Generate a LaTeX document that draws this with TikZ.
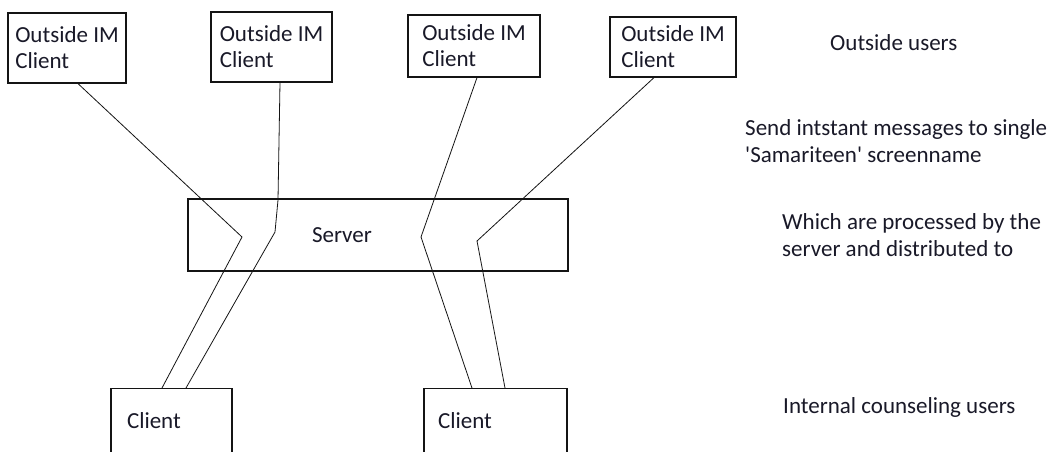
\documentclass[tikz,border=0pt]{standalone}
\usepackage{fontspec}
\setmainfont{Carlito}
\usepackage{tikz}
\usetikzlibrary{positioning}
\definecolor{InkBlack}{RGB}{20,20,20}
\definecolor{TextDark}{RGB}{25,25,40}
\tikzset{
  imbox/.style={
    draw=InkBlack,
    line width=1.2pt,
    align=left,
    text=TextDark,
    font=\fontsize{23}{26}\selectfont
  },
  serverbox/.style={
    draw=InkBlack,
    line width=1.2pt,
    minimum height=72pt,
    text width=132pt,
    inner xsep=124pt,
    align=left,
    text=TextDark,
    font=\fontsize{23}{26}\selectfont
  },
  clientbox/.style={
    draw=InkBlack,
    line width=1.2pt,
    anchor=north,
    align=left,
    inner ysep=24pt,
    text height=16pt,
    text depth=5pt,
    text=TextDark,
    font=\fontsize{23}{26}\selectfont
  },
  note/.style={
    anchor=base west,
    inner sep=0pt,
    align=left,
    text=TextDark,
    font=\fontsize{23}{27}\selectfont
  },
  link/.style={line width=0.8pt,draw=InkBlack}
}
\begin{document}
\begin{tikzpicture}[x=1pt,y=-1pt]
    \path[use as bounding box,fill=white] (0,0) rectangle (1050,451);
    \clip (0,0) rectangle (1050,451);
    \node[imbox,minimum width=118pt,minimum height=70pt] (out1) at (67,48) {Outside IM\\Client};
    \node[imbox,minimum width=121pt,minimum height=70pt] (out2) at (271.5,47) {Outside IM\\Client};
    \node[imbox,minimum width=132pt,minimum height=62pt] (out3) at (474,46) {Outside IM\\Client};
    \node[imbox,minimum width=126pt,minimum height=60pt] (out4) at (673,47) {Outside IM\\Client};
    \node[serverbox] (server) at (378,235) {Server};
    \node[clientbox,text width=89pt,inner xsep=16pt] (client1) at (171.5,388) {Client};
    \node[clientbox,text width=115pt,inner xsep=14pt] (client2) at (495.5,388) {Client};
    \node[note] (outside) at (830,50) {Outside users};
    \node[note] (send) at (745,162) {Send intstant messages to single\\\textquotesingle Samariteen\textquotesingle\ screenname};
    \node[note] (which) at (782,256) {Which are processed by the\\server and distributed to};
    \node[note] (internal) at (783,413) {Internal counseling users};
    \coordinate (k1) at (242,237);
    \coordinate (k2a) at (278,200);
    \coordinate (k2) at (275,232);
    \coordinate (k3) at (421,237);
    \coordinate (k4) at (477,241);
    \draw[link] ([xshift=11pt]out1.south) -- (k1) -- ([xshift=-9.5pt]client1.north);
    \draw[link] ([xshift=8.5pt]out2.south) -- (k2a) -- (k2) -- ([xshift=14.5pt]client1.north);
    \draw[link] ([xshift=3pt]out3.south) -- (k3) -- ([xshift=-23.5pt]client2.north);
    \draw[link] ([xshift=-19pt]out4.south) -- (k4) -- ([xshift=9.5pt]client2.north);
  \end{tikzpicture}
\end{document}
